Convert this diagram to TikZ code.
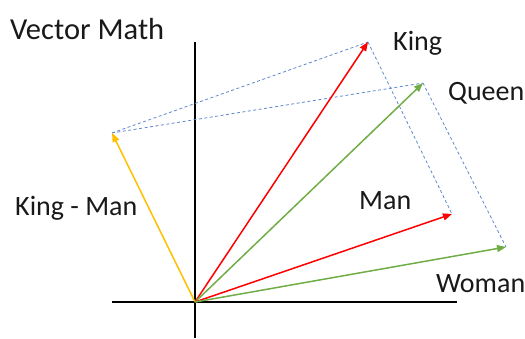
\documentclass[tikz,border=0pt]{standalone}
\usepackage{fontspec}
\setmainfont{Carlito}
\usetikzlibrary{arrows.meta}
\definecolor{vred}{HTML}{FF0000}
\definecolor{vgreen}{HTML}{70AD47}
\definecolor{vyellow}{HTML}{FFC000}
\definecolor{vblue}{HTML}{4472C4}
\tikzset{
  axis/.style={line width=1.6pt, black},
  vec/.style={line width=1.5pt, -{Triangle[length=9pt,width=7pt]}},
  guide/.style={vblue!85, line width=0.8pt, dash pattern=on 3pt off 2.5pt},
  lbl/.style={anchor=base west, inner sep=0pt, font=\fontsize{28}{30}\selectfont, text=black!90}
}
\begin{document}
\begin{tikzpicture}[x=1pt,y=-1pt]
\useasboundingbox (0,0) rectangle (525,338);
% axes
\coordinate (xl) at (112,302);
\coordinate (xr) at (457,302);
\coordinate (yt) at (195,42);
\coordinate (yb) at (195,338);
\draw[axis] (xl) -- (xr);
\draw[axis] (yt) -- (yb);
% points
\coordinate (O) at (195,302);
\coordinate (king) at (368,42);
\coordinate (queen) at (423,83);
\coordinate (man) at (452,214);
\coordinate (woman) at (506,247);
\coordinate (km) at (112,133);
% dashed guides
\draw[guide] (km) -- (king);
\draw[guide] (km) -- (queen);
\draw[guide] (king) -- (man);
\draw[guide] (queen) -- (woman);
% vectors
\draw[vec, vyellow] (O) -- (km);
\draw[vec, vred] (O) -- (king);
\draw[vec, vgreen] (O) -- (queen);
\draw[vec, vred] (O) -- (man);
\draw[vec, vgreen] (O) -- (woman);
% labels
\node[lbl, font=\fontsize{30.5}{32}\selectfont] (title) at (10,39) {Vector Math};
\node[lbl] (lking) at (393,50) {King};
\node[lbl] (lqueen) at (448,100) {Queen};
\node[lbl] (lman) at (359,209) {Man};
\node[lbl] (lwoman) at (436,292) {Woman};
\node[lbl] (lkm) at (15,215) {King - Man};
\end{tikzpicture}
\end{document}
